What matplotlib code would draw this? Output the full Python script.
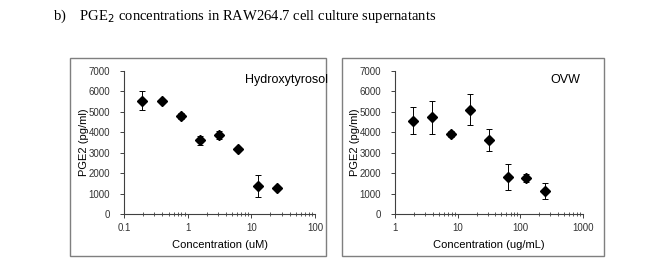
import matplotlib
matplotlib.use("Agg")
import matplotlib.pyplot as plt
from matplotlib.patches import Rectangle
from matplotlib.ticker import LogLocator, NullFormatter, FixedLocator

W, H = 647, 277

# Hydroxytyrosol panel
ht_conc = [0.195, 0.39, 0.78, 1.56, 3.125, 6.25, 12.5, 25]
ht_pge2 = [5550, 5520, 4800, 3600, 3870, 3200, 1380, 1260]
ht_err = [450, 90, 150, 200, 180, 100, 550, 100]

# OVW panel
ovw_conc = [1.95, 3.9, 7.8, 15.6, 31.25, 62.5, 125, 250]
ovw_pge2 = [4570, 4740, 3920, 5100, 3620, 1830, 1770, 1130]
ovw_err = [650, 800, 150, 750, 520, 640, 200, 380]

y_ticks = [0, 1000, 2000, 3000, 4000, 5000, 6000, 7000]


def px(x0, y0, x1, y1):
    return [x0 / W, 1 - y1 / H, (x1 - x0) / W, (y1 - y0) / H]


fig = plt.figure(figsize=(W / 100, H / 100), dpi=100)

fig.text(53 / W, 1 - 16 / H, "b)    PGE$_2$ concentrations in RAW264.7 cell culture supernatants",
         family="Liberation Serif", fontsize=10.5, va="center", ha="left")


def panel(box, ax_px, conc, vals, errs, xlim, xlabel, name, name_x):
    b = px(*box)
    fig.patches.append(Rectangle((b[0], b[1]), b[2], b[3], transform=fig.transFigure,
                                 fill=False, edgecolor="#7f7f7f", linewidth=1.0))
    ax = fig.add_axes(px(*ax_px))
    ax.errorbar(conc, vals, yerr=errs, fmt="D", color="black", markersize=5.5,
                ecolor="black", elinewidth=0.7, capsize=2.2, capthick=0.7)
    ax.set_xscale("log")
    ax.set_xlim(*xlim)
    ax.set_ylim(0, 7000)
    ax.yaxis.set_major_locator(FixedLocator(y_ticks))
    ax.xaxis.set_minor_locator(LogLocator(base=10, subs=range(2, 10)))
    ax.xaxis.set_minor_formatter(NullFormatter())
    ax.xaxis.set_major_formatter(matplotlib.ticker.FuncFormatter(lambda v, p: f"{v:g}"))
    for s in ["top", "right"]:
        ax.spines[s].set_visible(False)
    for s in ["left", "bottom"]:
        ax.spines[s].set_color("#404040")
        ax.spines[s].set_linewidth(0.8)
    ax.tick_params(axis="both", which="major", labelsize=7, colors="#404040",
                   direction="out", length=3, width=0.7, labelcolor="#333333")
    ax.tick_params(axis="y", which="major", pad=7)
    ax.tick_params(axis="x", which="minor", direction="inout", length=3, width=0.6,
                   colors="#404040")
    ax.set_xlabel(xlabel, family="Liberation Sans", fontsize=8, labelpad=5)
    ax.set_ylabel("PGE2 (pg/ml)", family="Liberation Sans", fontsize=8)
    ax.yaxis.set_label_coords(-0.185, 0.5)
    for lab in ax.get_xticklabels() + ax.get_yticklabels():
        lab.set_family("Liberation Sans")
    fig.text(name_x / W, 1 - 80 / H, name, family="Liberation Sans", fontsize=9,
             ha="right", va="center")
    return ax


panel((70, 58, 326, 256), (124, 71, 315, 214), ht_conc, ht_pge2, ht_err,
      (0.1, 100), "Concentration (uM)", "Hydroxytyrosol", 328)
panel((342, 58, 604, 256), (395, 71, 583, 214), ovw_conc, ovw_pge2, ovw_err,
      (1, 1000), "Concentration (ug/mL)", "OVW", 580)

fig.savefig("out.png", dpi=100)
